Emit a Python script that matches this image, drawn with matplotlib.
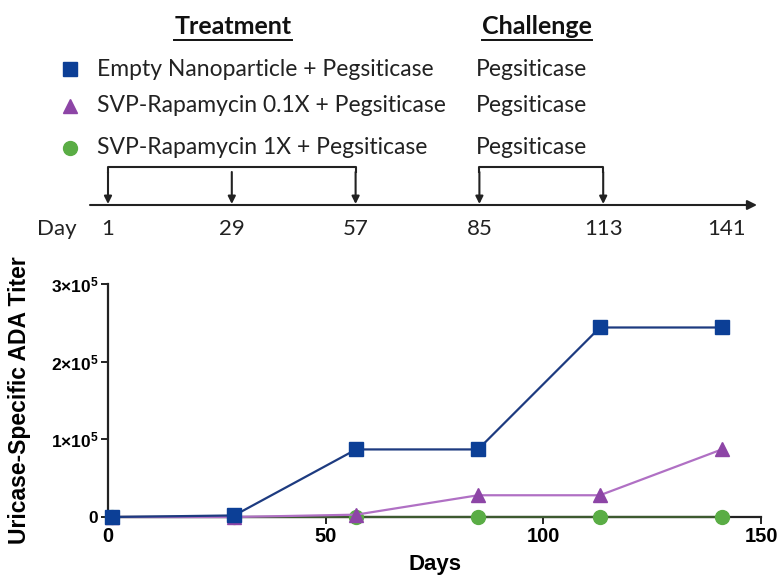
import matplotlib
matplotlib.use("Agg")
import matplotlib.pyplot as plt
from matplotlib.path import Path
from matplotlib.patches import PathPatch

# data
days = [1, 29, 57, 85, 113, 141]
empty_np = [0, 2000, 87000, 87000, 244000, 244000]
svp_01x = [0, 0, 3000, 28000, 28000, 87000]
svp_1x = [0, 0, 0, 0, 0, 0]

group_labels = ["Empty Nanoparticle + Pegsiticase",
                "SVP-Rapamycin 0.1X + Pegsiticase",
                "SVP-Rapamycin 1X + Pegsiticase"]
challenge_labels = ["Pegsiticase", "Pegsiticase", "Pegsiticase"]
treatment_days = [1, 29, 57]
challenge_days = [85, 113]
timeline_days = [1, 29, 57, 85, 113, 141]

y_ticks = [0, 100000, 200000, 300000]
y_ticklabels = ["0", r"$1{\times}10^{5}$", r"$2{\times}10^{5}$", r"$3{\times}10^{5}$"]
x_ticks = [0, 50, 100, 150]

blue_mk, blue_ln = "#0c3f96", "#1d3b80"
purple_mk, purple_ln = "#8d45a6", "#b070c4"
green_mk, green_ln = "#5aad45", "#3d5a30"

plt.rcParams["mathtext.fontset"] = "custom"
plt.rcParams["mathtext.rm"] = "Liberation Sans:bold"
plt.rcParams["mathtext.it"] = "Liberation Sans:bold"
plt.rcParams["mathtext.bf"] = "Liberation Sans:bold"

W, H = 780, 579
fig = plt.figure(figsize=(W / 100, H / 100), dpi=100)

arial = ["Liberation Sans", "DejaVu Sans"]
calib = ["Lato", "DejaVu Sans"]

# ---- main chart ----
ax = fig.add_axes([108 / W, 62 / H, 653 / W, 233 / H])
ax.plot(days, svp_1x, color=green_ln, lw=1.6, marker="o", ms=10,
        mfc=green_mk, mec=green_mk, clip_on=False, zorder=3)
ax.plot(days, svp_01x, color=purple_ln, lw=1.6, marker="^", ms=10,
        mfc=purple_mk, mec=purple_mk, clip_on=False, zorder=4)
ax.plot(days, empty_np, color=blue_ln, lw=1.6, marker="s", ms=10,
        mfc=blue_mk, mec=blue_mk, clip_on=False, zorder=5)

ax.set_xlim(0, 150)
ax.set_ylim(0, 300000)
for s in ["top", "right"]:
    ax.spines[s].set_visible(False)
for s in ["left", "bottom"]:
    ax.spines[s].set_linewidth(1.6)
    ax.spines[s].set_color("#222222")
ax.set_xticks(x_ticks)
ax.set_xticklabels([str(t) for t in x_ticks], fontfamily=arial,
                   fontweight="bold", fontsize=14.5)
ax.set_yticks(y_ticks)
ax.set_yticklabels(y_ticklabels, fontfamily=arial, fontweight="bold",
                   fontsize=12.5)
ax.tick_params(axis="both", length=5, width=1.4, color="#222222", pad=2)
ax.set_xlabel("Days", fontfamily=arial, fontweight="bold", fontsize=16,
              labelpad=6)
ax.set_ylabel("Uricase-Specific ADA Titer", fontfamily=arial,
              fontweight="bold", fontsize=16.5, labelpad=14)

# ---- top panel: legend + dosing timeline ----
top = fig.add_axes([0, 0, 1, 1], zorder=-1)
px_per_day = (727 - 108) / 140
x0 = 1 - 108 / px_per_day
top.set_xlim(x0, x0 + W / px_per_day)
top.set_ylim(H, 0)
top.axis("off")


def dx(px):
    return x0 + px / px_per_day


hdr = {"fontfamily": calib, "fontweight": "bold", "fontsize": 18,
       "ha": "center", "va": "center", "color": "#111111"}
t1 = top.text(dx(233), 27, "Treatment", **hdr)
t2 = top.text(dx(537), 27, "Challenge", **hdr)

rows_y = [69, 106, 148]
markers = [("s", blue_mk), ("^", purple_mk), ("o", green_mk)]
for yy, (m, c), lab, ch in zip(rows_y, markers, group_labels, challenge_labels):
    top.plot([dx(70)], [yy], marker=m, ms=10, color=c, mec=c, ls="none")
    top.text(dx(97), yy, lab, fontfamily=calib, fontsize=16.5,
             ha="left", va="center", color="#222222")
    top.text(dx(476), yy, ch, fontfamily=calib, fontsize=16.5,
             ha="left", va="center", color="#222222")

# timeline axis
line_y = 205
top.annotate("", xy=(dx(757), line_y), xytext=(dx(90), line_y),
             arrowprops=dict(arrowstyle="-|>", lw=1.5, color="#222222",
                             mutation_scale=14, shrinkA=0, shrinkB=0))
for d in timeline_days:
    top.text(d, 229, str(d), fontfamily=calib, fontsize=16, ha="center",
             va="center", color="#222222")
top.text(dx(57), 229, "Day", fontfamily=calib, fontsize=16, ha="center",
         va="center", color="#222222")

for d in treatment_days + challenge_days:
    top.annotate("", xy=(d, line_y - 1), xytext=(d, 172),
                 arrowprops=dict(arrowstyle="-|>", lw=1.5, color="#222222",
                                 mutation_scale=11, shrinkA=0, shrinkB=0))


def bracket(a, b, y=167, drop=6):
    verts = [(a, y + drop), (a, y), (b, y), (b, y + drop)]
    codes = [Path.MOVETO, Path.LINETO, Path.LINETO, Path.LINETO]
    top.add_patch(PathPatch(Path(verts, codes), fill=False, lw=1.5,
                            ec="#222222", joinstyle="round"))


bracket(treatment_days[0], treatment_days[-1])
bracket(challenge_days[0], challenge_days[-1])

# underline the headers
fig.canvas.draw()
r = fig.canvas.get_renderer()
inv = top.transData.inverted()
for t in (t1, t2):
    bb = t.get_window_extent(r)
    (xa, ya), (xb, yb) = inv.transform([(bb.x0, bb.y0), (bb.x1, bb.y0)])
    top.plot([xa, xb], [ya + 1, yb + 1], color="#111111", lw=1.4)

fig.savefig("out.png", dpi=100)
